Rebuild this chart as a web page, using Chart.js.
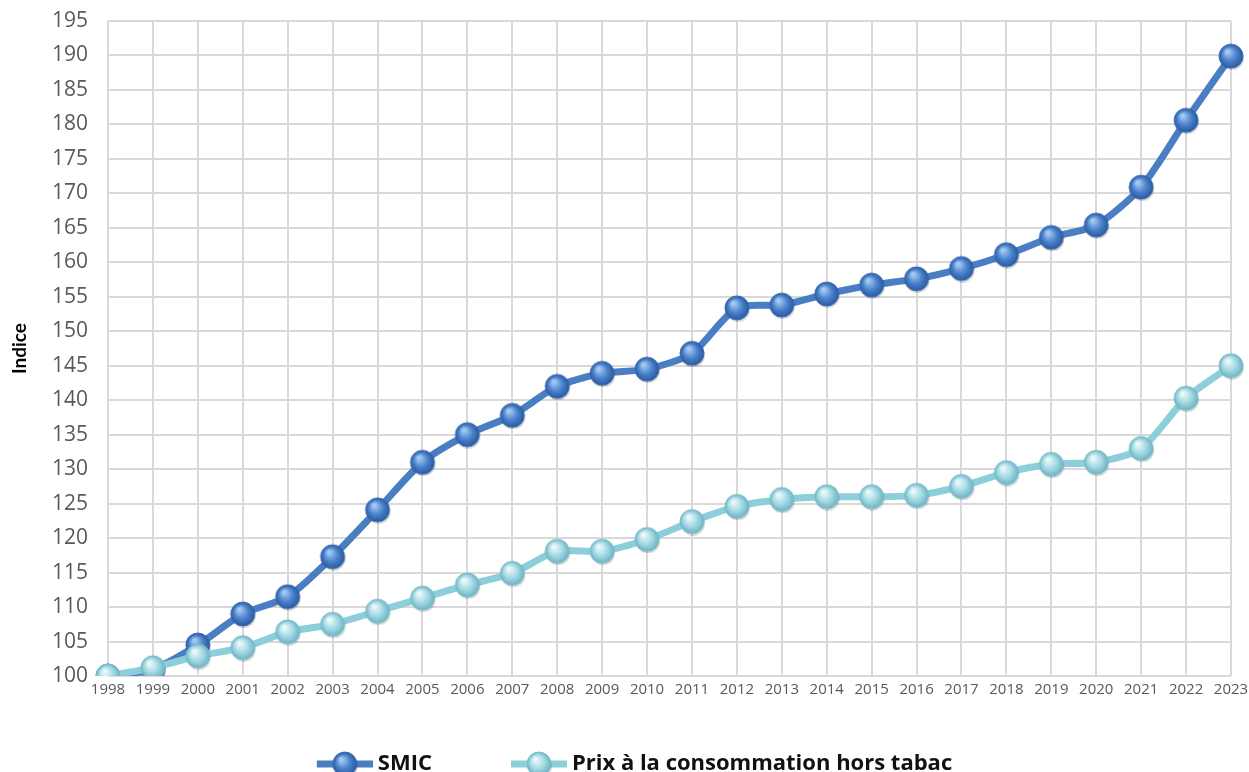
<!DOCTYPE html>
<html lang="fr">
<head>
<meta charset="utf-8">
<title>SMIC et prix</title>
<script src="https://cdn.jsdelivr.net/npm/chart.js@4/dist/chart.umd.min.js"></script>
<style>
    html, body { margin: 0; padding: 0; background: #fff; }
    #wrap { width: 1249px; height: 772px; }
</style>
</head>
<body>
<div id="wrap"><canvas id="chart" width="1249" height="772"></canvas></div>
<script>
const years = ['1998', '1999', '2000', '2001', '2002', '2003', '2004', '2005', '2006', '2007',
    '2008', '2009', '2010', '2011', '2012', '2013', '2014', '2015', '2016', '2017',
    '2018', '2019', '2020', '2021', '2022', '2023']

const smic = [100, 101, 104.5, 109, 111.5, 117.3, 124.1, 131, 135, 137.8,
    142, 143.9, 144.5, 146.8, 153.4, 153.8, 155.4, 156.7, 157.6, 159.1,
    161.1, 163.6, 165.4, 170.9, 180.6, 189.9]

const prix = [100, 101.2, 102.9, 104.1, 106.4, 107.5, 109.4, 111.3, 113.2, 114.9,
    118.1, 118.1, 119.8, 122.4, 124.6, 125.6, 126, 126, 126.2, 127.5,
    129.5, 130.7, 131, 133, 140.3, 145]

const seriesNames = ['SMIC', 'Prix à la consommation hors tabac']
const yTicksMin = 100
const yTicksMax = 195
const yStep = 5

// little shaded ball used for the markers
function makeBall(size, light, base, dark, edge) {
    const c = document.createElement('canvas')
    c.width = size + 4
    c.height = size + 4
    const ctx = c.getContext('2d')
    const r = size / 2
    const cx = r + 2, cy = r + 2
    ctx.beginPath()
    ctx.arc(cx + 1, cy + 2, r, 0, Math.PI * 2)
    ctx.fillStyle = 'rgba(0,0,0,0.15)'
    ctx.fill()
    const g = ctx.createRadialGradient(cx - r * 0.3, cy - r * 0.4, r * 0.1, cx, cy, r)
    g.addColorStop(0, light)
    g.addColorStop(0.55, base)
    g.addColorStop(1, dark)
    ctx.beginPath()
    ctx.arc(cx, cy, r, 0, Math.PI * 2)
    ctx.fillStyle = g
    ctx.fill()
    ctx.lineWidth = 1
    ctx.strokeStyle = edge
    ctx.stroke()
    return c
}

// line + ball for the legend, with blank room on the left (lead) for spacing
const legendLead = 44
function makeLegendMark(ball, lineColor) {
    const c = document.createElement('canvas')
    c.width = legendLead + 56
    c.height = ball.height
    const ctx = c.getContext('2d')
    ctx.fillStyle = lineColor
    ctx.fillRect(legendLead, c.height / 2 - 3.5, 56, 7)
    ctx.drawImage(ball, legendLead + 28 - ball.width / 2, 0)
    return c
}

const smicBall = makeBall(24, '#a6cbf2', '#4a82cc', '#2a5aa0', '#3a6ab0')
const prixBall = makeBall(24, '#ecf9fb', '#a3d9e4', '#6cb3c2', '#7dbdca')
const legendMarks = [makeLegendMark(smicBall, '#4a7ec2'), makeLegendMark(prixBall, '#8ccfda')]

const ctx = document.getElementById('chart').getContext('2d')

new Chart(ctx, {
    type: 'line',
    data: {
        labels: years,
        datasets: [{
            label: seriesNames[0],
            data: smic,
            borderColor: '#4a7ec2',
            borderWidth: 7,
            tension: 0.25,
            pointStyle: smicBall,
            pointRadius: 12,
            order: 1
        }, {
            label: seriesNames[1],
            data: prix,
            borderColor: '#8ccfda',
            borderWidth: 7,
            tension: 0.25,
            pointStyle: prixBall,
            pointRadius: 12,
            order: 0
        }]
    },
    options: {
        responsive: false,
        animation: false,
        layout: {
            autoPadding: false,
            padding: { top: 21, right: 18, left: 0, bottom: -13 }
        },
        scales: {
            x: {
                offset: false,
                grid: { color: '#d9d9d9', lineWidth: 2, drawTicks: false },
                border: { display: false },
                ticks: {
                    color: '#595959',
                    font: { family: 'Open Sans', size: 15 },
                    padding: 5,
                    maxRotation: 0,
                    autoSkip: false
                },
                afterFit: (scale) => {
                    scale.height = 36
                    scale.paddingLeft = 0
                    scale.paddingRight = 0
                }
            },
            y: {
                min: yTicksMin,
                max: yTicksMax,
                grid: { color: '#d9d9d9', lineWidth: 2, drawTicks: false },
                border: { display: false },
                ticks: {
                    stepSize: yStep,
                    color: '#595959',
                    font: { family: 'Open Sans', size: 21 },
                    padding: 20
                },
                title: {
                    display: true,
                    text: 'Indice',
                    color: '#000',
                    font: { family: 'Lato', size: 19, weight: 'bold' },
                    padding: { top: 8, bottom: 0 }
                },
                afterFit: (scale) => {
                    scale.width = 108
                    scale.paddingTop = 0
                    scale.paddingBottom = 0
                }
            }
        },
        plugins: {
            tooltip: { enabled: false },
            legend: {
                position: 'bottom',
                labels: {
                    color: '#111',
                    font: { family: 'Open Sans', size: 22, weight: 'bold' },
                    usePointStyle: true,
                    pointStyleWidth: legendLead + 56 - 12,
                    padding: 41,
                    generateLabels: (chart) => chart.data.datasets.map((ds, i) => ({
                        text: ds.label,
                        pointStyle: legendMarks[i],
                        fillStyle: ds.borderColor,
                        strokeStyle: ds.borderColor,
                        lineWidth: 0,
                        hidden: false,
                        datasetIndex: i,
                        fontColor: '#111'
                    }))
                }
            }
        }
    }
})
</script>
</body>
</html>
